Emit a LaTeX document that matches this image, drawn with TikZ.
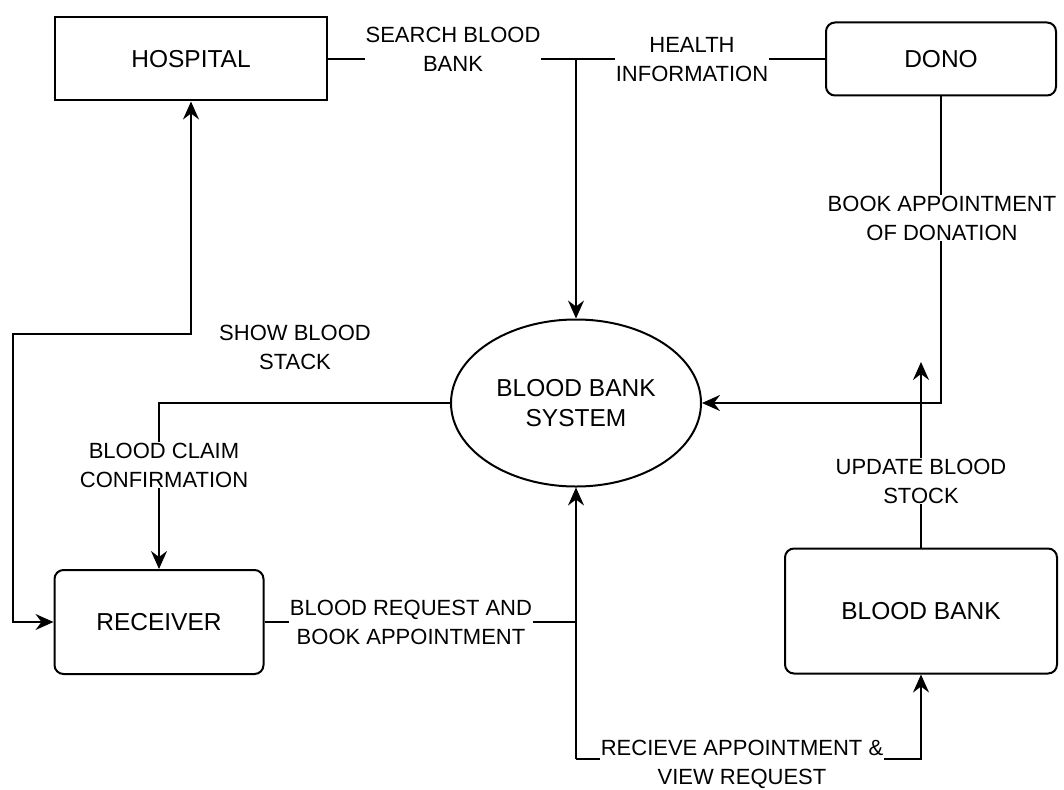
\documentclass[tikz,border=0pt]{standalone}
\usepackage{fontspec}
\setmainfont{Liberation Sans}
\usetikzlibrary{arrows.meta, shapes.geometric}

\begin{document}
\begin{tikzpicture}[x=1pt, y=-1pt,
   flow/.style={line width=2pt},
   >={Stealth[length=18pt, width=16pt, inset=6pt]},
   entity/.style={draw, line width=2pt, font=\fontsize{24.5}{30}\selectfont},
   store/.style={entity, rounded corners=9pt},
   tag/.style={fill=white, inner sep=1pt, align=center, font=\fontsize{22}{29}\selectfont}]

\useasboundingbox (0,0) rectangle (1064,789);

\node[entity, minimum width=272pt, minimum height=83pt] (hospital) at (191,59) {HOSPITAL};
\node[store, minimum width=230pt, minimum height=73pt] (donor) at (941,59) {DONO};
\node[entity, ellipse, minimum width=250pt, minimum height=167pt, align=center] (system) at (576,403) {BLOOD BANK\\SYSTEM};
\node[store, minimum width=209pt, minimum height=104pt] (receiver) at (159,622) {RECEIVER};
\node[store, minimum width=272pt, minimum height=125pt] (bank) at (921,611) {BLOOD BANK};

\coordinate (top) at (576,59);
\coordinate (bend) at (13,334);
\coordinate (join) at (576,622);
\coordinate (low) at (576,759);
\coordinate (stocktip) at (921,362);

\draw[flow] (hospital.east) -- (top);
\draw[flow] (donor.west) -- (top);
\draw[flow,->] (top) -- (system.north);
\draw[flow,->] (donor.south) |- (system.east);
\draw[flow,->] (bank.north) -- (stocktip);
\draw[flow,->] (system.west) -| (receiver.north);
\draw[flow,<->] (hospital.south) |- (bend) |- (receiver.west);
\draw[flow] (receiver.east) -- (join);
\draw[flow,->] (low) -- (system.south);
\draw[flow,->] (low) -| (bank.south);

% labels on the flows
\node[tag] (search) at (453,49) {SEARCH BLOOD\\BANK};
\node[tag] (health) at (692,60) {HEALTH\\INFORMATION};
\node[tag] (donation) at (942,218) {BOOK APPOINTMENT\\OF DONATION};
\node[tag] (stock) at (921,481) {UPDATE BLOOD\\STOCK};
\node[tag] (claim) at (164,465) {BLOOD CLAIM\\CONFIRMATION};
\node[tag] (show) at (295,347) {SHOW BLOOD\\STACK};
\node[tag] (request) at (411,622) {BLOOD REQUEST AND\\BOOK APPOINTMENT};
\node[tag] (receive) at (742,764) {RECIEVE APPOINTMENT \&\\VIEW REQUEST};

\end{tikzpicture}
\end{document}
